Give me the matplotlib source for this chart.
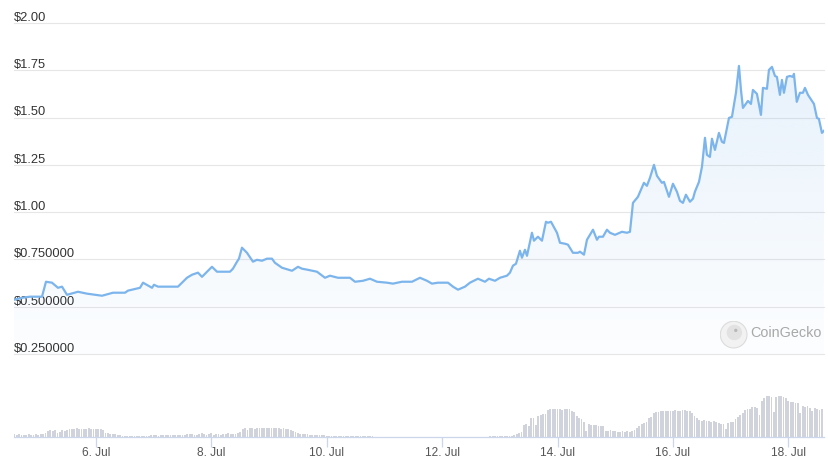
import numpy as np
import matplotlib.pyplot as plt
from matplotlib.patches import Circle

# time in fractional days of July, price in USD
days = [4.579, 4.735, 4.856, 5.064, 5.133, 5.237, 5.341, 5.411, 5.497, 5.688,
        5.844, 6.104, 6.295, 6.503, 6.555, 6.763, 6.815, 6.971, 7.005, 7.075,
        7.334, 7.421, 7.490, 7.577, 7.664, 7.768, 7.837, 8.010, 8.097, 8.184,
        8.322, 8.374, 8.444, 8.478, 8.530, 8.617, 8.721, 8.790, 8.877, 8.964,
        9.050, 9.102, 9.224, 9.397, 9.501, 9.570, 9.674, 9.830, 9.969, 10.055,
        10.194, 10.402, 10.489, 10.627, 10.749, 10.870, 11.043, 11.147, 11.303, 11.477,
        11.615, 11.737, 11.823, 11.927, 12.101, 12.187, 12.274, 12.395, 12.482, 12.620,
        12.742, 12.811, 12.915, 13.002, 13.123, 13.175, 13.227, 13.279, 13.348, 13.383,
        13.435, 13.470, 13.556, 13.591, 13.660, 13.730, 13.799, 13.834, 13.886, 13.990,
        14.042, 14.128, 14.180, 14.267, 14.354, 14.388, 14.458, 14.510, 14.614, 14.683,
        14.718, 14.787, 14.856, 14.908, 14.995, 15.116, 15.203, 15.255, 15.307, 15.393,
        15.497, 15.549, 15.601, 15.671, 15.723, 15.809, 15.844, 15.931, 16.000, 16.069,
        16.121, 16.173, 16.225, 16.295, 16.347, 16.381, 16.451, 16.503, 16.555, 16.589,
        16.641, 16.676, 16.728, 16.797, 16.849, 16.884, 16.971, 17.023, 17.092, 17.144,
        17.179, 17.213, 17.300, 17.352, 17.386, 17.456, 17.525, 17.560, 17.629, 17.664,
        17.716, 17.768, 17.802, 17.854, 17.889, 17.924, 17.976, 18.028, 18.080, 18.097,
        18.146, 18.201, 18.253, 18.288, 18.340, 18.409, 18.444, 18.496, 18.530, 18.582,
        18.617]
prices = [0.537, 0.548, 0.553, 0.553, 0.632, 0.627, 0.600, 0.606, 0.563, 0.579,
          0.569, 0.558, 0.574, 0.574, 0.585, 0.600, 0.627, 0.600, 0.616, 0.606,
          0.606, 0.606, 0.627, 0.653, 0.669, 0.680, 0.658, 0.711, 0.685, 0.685,
          0.685, 0.701, 0.738, 0.754, 0.812, 0.785, 0.738, 0.748, 0.743, 0.754,
          0.754, 0.732, 0.706, 0.690, 0.711, 0.701, 0.695, 0.685, 0.653, 0.664,
          0.653, 0.653, 0.632, 0.637, 0.648, 0.632, 0.627, 0.622, 0.632, 0.632,
          0.653, 0.637, 0.622, 0.627, 0.627, 0.606, 0.590, 0.606, 0.627, 0.648,
          0.632, 0.648, 0.637, 0.653, 0.664, 0.680, 0.717, 0.727, 0.796, 0.759,
          0.801, 0.769, 0.891, 0.849, 0.870, 0.849, 0.949, 0.944, 0.949, 0.891,
          0.838, 0.833, 0.828, 0.785, 0.785, 0.791, 0.775, 0.854, 0.907, 0.854,
          0.870, 0.870, 0.907, 0.891, 0.880, 0.896, 0.891, 0.896, 1.049, 1.081,
          1.155, 1.139, 1.181, 1.250, 1.192, 1.155, 1.160, 1.081, 1.150, 1.108,
          1.060, 1.049, 1.092, 1.055, 1.071, 1.108, 1.160, 1.240, 1.393, 1.303,
          1.292, 1.388, 1.329, 1.419, 1.372, 1.366, 1.498, 1.504, 1.631, 1.773,
          1.646, 1.551, 1.588, 1.572, 1.646, 1.625, 1.514, 1.657, 1.652, 1.752,
          1.768, 1.720, 1.715, 1.620, 1.699, 1.631, 1.715, 1.720, 1.715, 1.731,
          1.583, 1.631, 1.631, 1.657, 1.620, 1.588, 1.572, 1.498, 1.493, 1.419,
          1.430]

# hourly volume (millions USD), first bar Jul 4 14:00
vol_start = 4.583
volumes = ([3, 2, 3, 2, 2, 2, 3, 2, 2, 3, 2, 3, 3, 4]
           + [6, 7, 6, 7, 4, 5, 7, 6, 7]
           + [8, 8, 8, 9, 8, 8, 8, 8, 9, 8, 8, 8, 8, 8, 7]
           + [4, 4, 3, 3, 3, 2, 2]
           + [1] * 12 + [2, 2, 2, 1, 2, 2, 2, 2, 2, 2, 2, 2, 2, 2]
           + [2, 3, 3, 3, 2, 2, 3, 4, 3, 2, 3, 4, 2, 3, 3, 2, 3, 3, 4, 3, 3, 3, 4, 5]
           + [8, 9, 7, 9, 9, 8, 9, 9, 9, 9, 9, 9, 9, 9, 9, 9, 8, 9, 8, 8, 7, 6, 5]
           + [4, 3, 3, 3, 3, 2, 2, 2, 2, 2, 2, 2, 1]
           + [1] * 19
           + [0.3] * 48
           + [1, 1, 1, 1, 1, 1, 1, 1, 1, 1, 2]
           + [3, 4, 5, 12, 13, 11, 19, 19, 12, 21, 22, 23, 23]
           + [27, 28, 28, 28, 28, 28, 27, 28, 28, 28, 26, 25]
           + [21, 19, 18, 15, 6, 13, 12, 12, 12, 11, 11, 11]
           + [6, 6, 7, 6, 6, 5, 5, 6, 5, 6, 5, 6, 7, 9, 11, 13, 14, 15, 19, 20]
           + [24, 25, 25, 26, 26, 26, 26, 26, 26, 27, 26, 26, 27, 27, 26, 26, 24]
           + [21, 19, 17, 16, 17, 16, 16, 15, 16, 15, 14, 13, 13, 8, 14, 15, 15]
           + [18, 20, 22, 24, 27, 28, 28, 30, 30, 29, 22, 36, 39, 41, 41, 40, 25]
           + [40, 41, 41, 40, 39, 36, 35, 35, 34, 34, 24, 31, 30, 31, 29]
           + [26, 29, 28, 27, 28])

y_ticks = [0.25, 0.5, 0.75, 1.0, 1.25, 1.5, 1.75, 2.0]
y_labels = ['$0.250000', '$0.500000', '$0.750000', '$1.00',
            '$1.25', '$1.50', '$1.75', '$2.00']
x_ticks = [6, 8, 10, 12, 14, 16, 18]
x_labels = ['6. Jul', '8. Jul', '10. Jul', '12. Jul', '14. Jul', '16. Jul', '18. Jul']

plt.rcParams['font.family'] = ['Liberation Sans', 'DejaVu Sans']
line_color = '#7cb5ec'
grid_color = '#e6e6e6'
x0, x1 = 4.579, 18.617

fig = plt.figure(figsize=(8.29, 4.68), dpi=100)
ax = fig.add_axes([0.0169, 0.2436, 0.977, 0.7073])
ax.set_xlim(x0, x1)
ax.set_ylim(0.25, 2.0)
ax.axis('off')

for v, lab in zip(y_ticks, y_labels):
    ax.axhline(v, color=grid_color, lw=0.8, zorder=0, clip_on=False)
    ax.annotate(lab, (0, v), xycoords=('axes fraction', 'data'),
                xytext=(0, 1.5), textcoords='offset points',
                ha='left', va='baseline', fontsize=9.3, color='#333333')

# gradient fill under the line
poly = ax.fill_between(days, prices, 0.25, color='none', lw=0)
grad = np.linspace(0.0, 1.0, 256).reshape(-1, 1)
rgba = np.zeros((256, 1, 4))
rgba[..., :3] = np.array([124, 181, 236]) / 255.0
rgba[..., 3] = 0.02 + 0.16 * grad
img = ax.imshow(rgba, extent=[x0, x1, 0.25, max(prices)], origin='lower',
                aspect='auto', zorder=1)
path = poly.get_paths()[0]
img.set_clip_path(path, ax.transData)
ax.set_xlim(x0, x1)
ax.set_ylim(0.25, 2.0)

ax.plot(days, prices, color=line_color, lw=1.6, zorder=3,
        solid_joinstyle='round')

# watermark
wm = fig.add_axes([0.868, 0.255, 0.034, 0.06])
wm.set_xlim(-1, 1)
wm.set_ylim(-1, 1)
wm.set_aspect('equal')
wm.axis('off')
wm.add_patch(Circle((0, 0), 0.95, facecolor='#f2f2f2', edgecolor='#dcdcdc', lw=0.8))
wm.add_patch(Circle((0.05, 0.15), 0.55, facecolor='#e2e2e2', edgecolor='none'))
wm.add_patch(Circle((0.15, 0.3), 0.12, facecolor='#b8b8b8', edgecolor='none'))
fig.text(0.905, 0.288, 'CoinGecko', fontsize=10.4, color='#a8a8a8',
         ha='left', va='center')

# volume panel
vax = fig.add_axes([0.0169, 0.0662, 0.977, 0.1432])
vt = vol_start + np.arange(len(volumes)) / 24.0
vax.bar(vt, volumes, width=0.75 / 24, color='#d0d3dc', lw=0, align='center')
vax.set_xlim(x0, x1)
vax.set_ylim(0, 67)
for s in ['top', 'left', 'right']:
    vax.spines[s].set_visible(False)
vax.spines['bottom'].set_color('#ccd6eb')
vax.spines['bottom'].set_linewidth(0.9)
vax.set_yticks([])
vax.set_xticks(x_ticks)
vax.set_xticklabels(x_labels)
vax.tick_params(axis='x', length=7, width=0.9, color='#ccd6eb',
                labelsize=8.6, labelcolor='#555555', pad=0.5)

fig.savefig('out.png', dpi=100, facecolor='white')
